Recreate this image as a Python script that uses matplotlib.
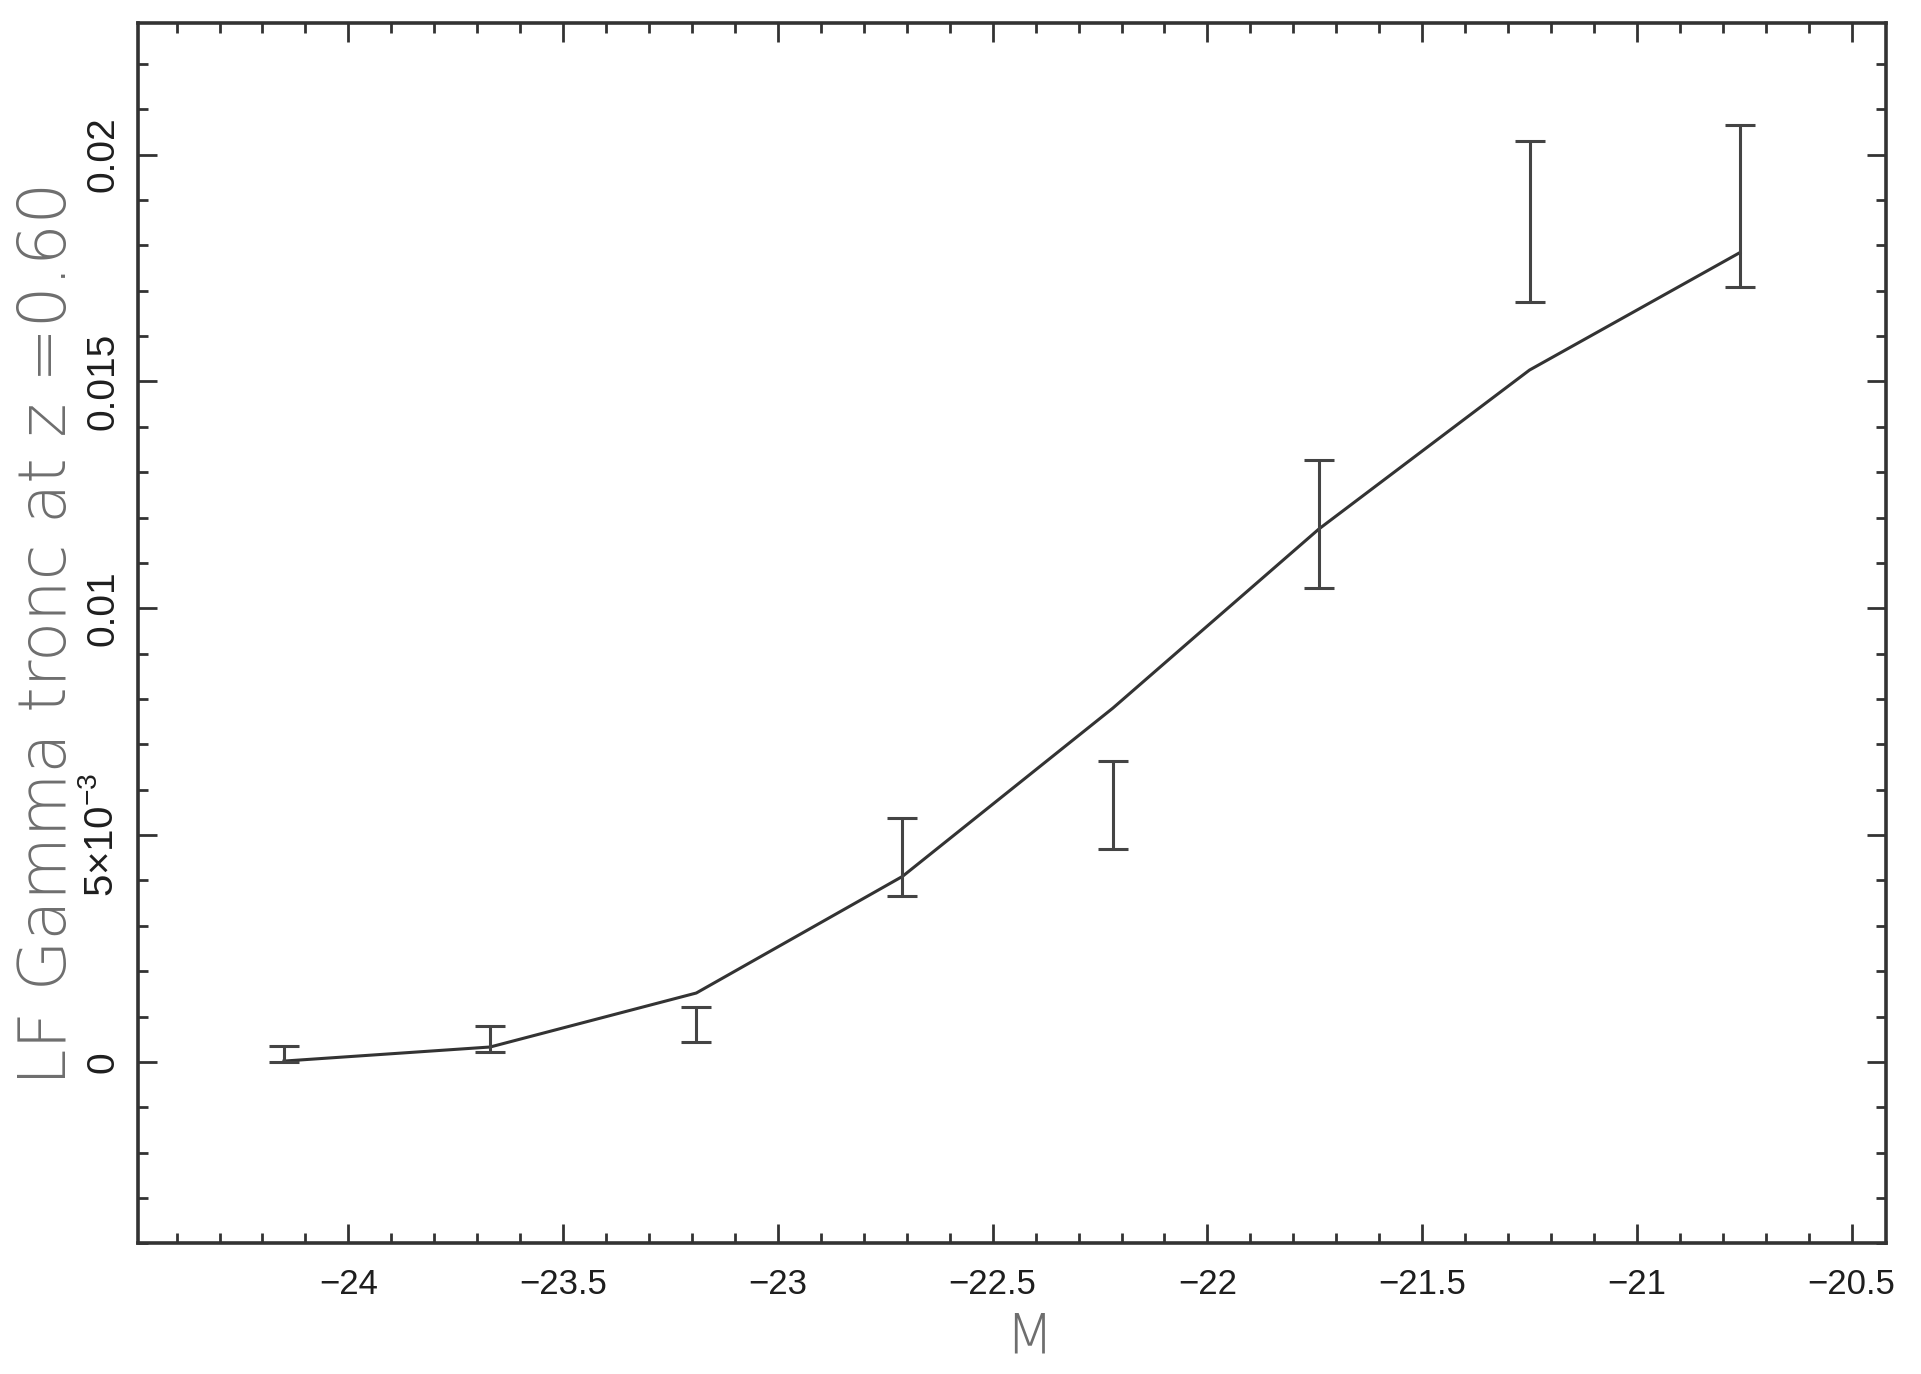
import numpy as np
import matplotlib
matplotlib.use("Agg")
import matplotlib.pyplot as plt
from matplotlib.ticker import MultipleLocator
from matplotlib import font_manager

# magnitudes of the bins
mag = [-24.15, -23.67, -23.19, -22.71, -22.22, -21.74, -21.25, -20.76]
# model curve (the line)
lf_model = [0.00002, 0.00033, 0.00152, 0.00409, 0.0078, 0.01175, 0.01525, 0.01784]
# data with error bars (lower / upper ends)
lf_lo = [0.0, 0.00021, 0.00045, 0.00365, 0.00469, 0.01045, 0.01676, 0.01708]
lf_hi = [0.00035, 0.0008, 0.00121, 0.00537, 0.00664, 0.01326, 0.02029, 0.02065]

xticks = [-24, -23.5, -23, -22.5, -22, -21.5, -21, -20.5]
xticklabels = ["\u221224", "\u221223.5", "\u221223", "\u221222.5", "\u221222", "\u221221.5", "\u221221", "\u221220.5"]
yticks = [0, 0.005, 0.01, 0.015, 0.02]
yticklabels = ["0", r"$5{\times}10^{-3}$", "0.01", "0.015", "0.02"]

names = {f.name for f in font_manager.fontManager.ttflist}
tick_font = "Liberation Sans" if "Liberation Sans" in names else "DejaVu Sans"
plt.rcParams["mathtext.fontset"] = "custom"
plt.rcParams["mathtext.rm"] = tick_font
plt.rcParams["mathtext.it"] = tick_font

INK = "#333333"
GREY = "#6e6e6e"

fig = plt.figure(figsize=(19.21, 13.74), dpi=100)
ax = fig.add_axes([0.0718, 0.095, 0.91, 0.8883])

lo = np.array(lf_lo)
hi = np.array(lf_hi)
mid = (lo + hi) / 2
err = (hi - lo) / 2

ax.plot(mag, lf_model, color=INK, lw=2.2)
ax.errorbar(mag, mid, yerr=err, fmt="none", ecolor="#444444", elinewidth=2.2,
            capsize=11, capthick=2.2)

ax.set_xlim(-24.49, -20.42)
ax.set_ylim(-0.004, 0.0229)

ax.set_xticks(xticks)
ax.set_xticklabels(xticklabels)
ax.set_yticks(yticks)
ax.set_yticklabels(yticklabels)
ax.xaxis.set_minor_locator(MultipleLocator(0.1))
ax.yaxis.set_minor_locator(MultipleLocator(0.001))

ax.tick_params(which="both", direction="in", top=True, right=True, color=INK, width=2)
ax.tick_params(which="major", length=14)
ax.tick_params(which="minor", length=7)
ax.tick_params(axis="x", pad=18, labelsize=25, labelcolor="#1e1e1e")
ax.tick_params(axis="y", pad=12, labelsize=28, labelcolor="#1e1e1e")
for lab in ax.get_xticklabels() + ax.get_yticklabels():
    lab.set_fontfamily(tick_font)
for lab in ax.get_yticklabels():
    lab.set_rotation(90)
    lab.set_va("center")
ax.get_yticklabels()[1].set_fontsize(29)

for s in ax.spines.values():
    s.set_linewidth(2.6)
    s.set_color(INK)

ax.set_xlabel("M", fontsize=40, color=GREY, family="DejaVu Sans", fontweight="light")
ax.xaxis.set_label_coords(0.51, -0.055)
ax.set_ylabel("LF Gamma tronc at z =0.60", fontsize=47, color=GREY,
              family="DejaVu Sans", fontweight="light")
ax.yaxis.set_label_coords(-0.033, 0.50)

fig.savefig("out.png", dpi=100)
